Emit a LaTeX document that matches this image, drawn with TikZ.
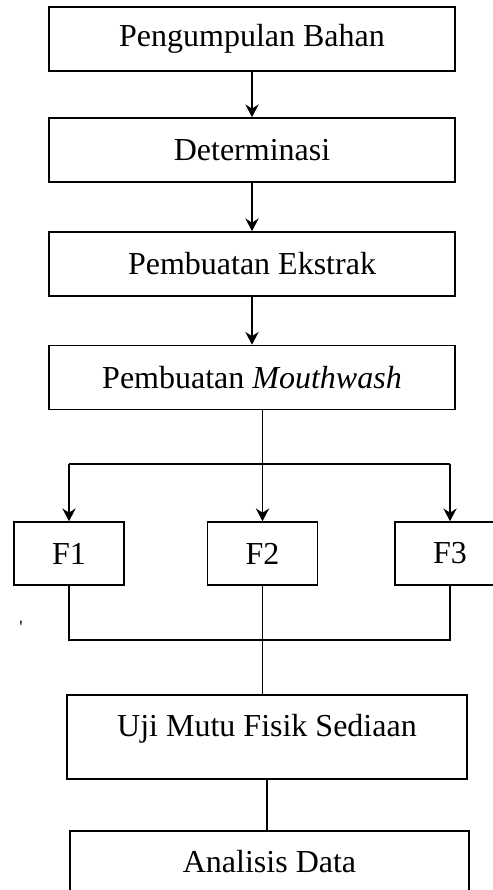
\documentclass[tikz,border=0pt]{standalone}
\usepackage{fontspec}
\setmainfont{Liberation Serif}
\usepackage{tikz}
\usetikzlibrary{arrows.meta,positioning,calc}

\begin{document}
\begin{tikzpicture}[
    x=0.375pt, y=-0.375pt,
    stage/.style={rectangle, draw, line width=0.6pt, inner sep=0pt, minimum width=152.25pt, minimum height=24pt, font=\fontsize{12}{14}\selectfont, text centered},
    formula/.style={stage, minimum width=41.25pt, minimum height=23.6pt},
    tallstage/.style={stage, minimum height=31.5pt, text depth=8.4pt},
    arrow/.style={-{Stealth[length=4.8pt,width=5pt,inset=1.6pt]}, line width=0.55pt},
    link/.style={line width=0.55pt}
]
\useasboundingbox (0,0) rectangle (493,890);
\clip (0,0) rectangle (493,890);

% Main stages
\node[stage] (bahan) at (252,39) {Pengumpulan Bahan};
\node[stage] (determinasi) at (252,150) {Determinasi};
\node[stage] (ekstrak) at (252,264) {Pembuatan Ekstrak};
\node[stage] (mouthwash) at (252,377.5) {Pembuatan \textit{Mouthwash}};

% Formulas
\node[formula] (f1) at (69,553.5) {F1};
\node[formula] (f2) at (262.5,553.5) {F2};
\node[formula] (f3) at (450,553.5) {F3};

% Testing and analysis
\node[tallstage, minimum width=150pt] (uji) at (267,737) {Uji Mutu Fisik Sediaan};
\node[tallstage, minimum width=149.6pt] (analisis) at (269.5,873) {Analisis Data};

% Stray mark
\node[inner sep=0pt, font=\fontsize{7}{7}\selectfont] (mark) at (21,627) {\textquotesingle};

% Split and join levels
\coordinate (split) at (0,464);
\coordinate (join) at (0,640);

% Arrows - Main flow
\draw[arrow] (bahan) -- (determinasi);
\draw[arrow] (determinasi) -- (ekstrak);
\draw[arrow] (ekstrak) -- (mouthwash);

% Branch to formulas
\draw[arrow] (f2.north |- mouthwash.south) -- (f2.north);
\draw[link] (split -| f1.north) -- (split -| f3.north);
\draw[arrow] (split -| f1.north) -- (f1.north);
\draw[arrow] (split -| f3.north) -- (f3.north);

% Join to testing
\draw[link] (f1.south) -- (f1.south |- join) -- (f3.south |- join) -- (f3.south);
\draw[link] (f2.south) -- (f2.south |- uji.north);
\draw[link] (uji.south) -- (uji.south |- analisis.north);

\end{tikzpicture}
\end{document}
